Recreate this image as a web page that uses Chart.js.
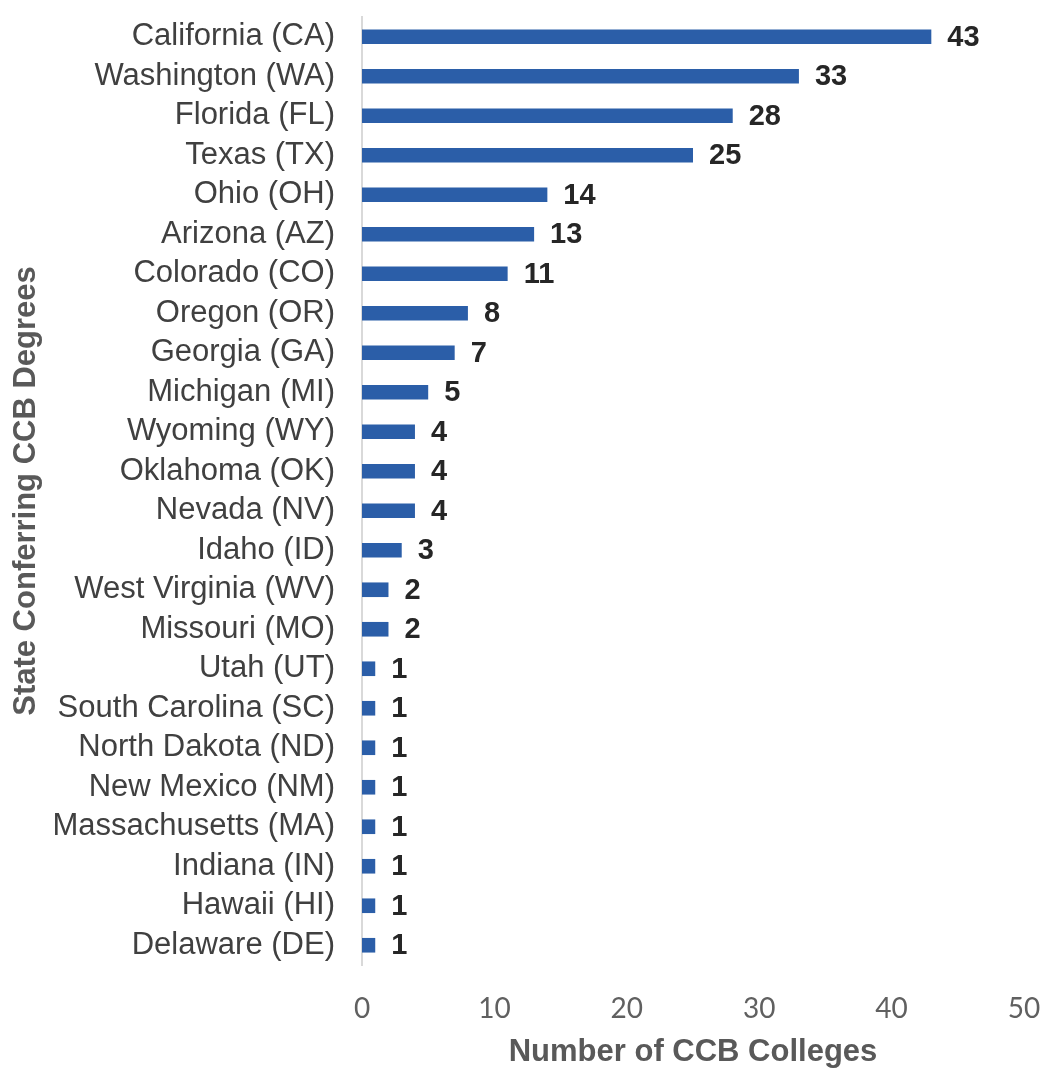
<!DOCTYPE html>
<html>
<head>
<meta charset="utf-8">
<title>CCB Colleges by State</title>
<script src="https://cdn.jsdelivr.net/npm/chart.js@4"></script>
<style>
  html, body { margin: 0; padding: 0; background: #ffffff; }
  #wrap { width: 1046px; height: 1068px; position: relative; }
</style>
</head>
<body>
<div id="wrap"><canvas id="ccbChart"></canvas></div>
<script>
// ---------------------------------------------------------
// DATA
// ---------------------------------------------------------
const states = [
  "California (CA)", "Washington (WA)", "Florida (FL)", "Texas (TX)",
  "Ohio (OH)", "Arizona (AZ)", "Colorado (CO)", "Oregon (OR)",
  "Georgia (GA)", "Michigan (MI)", "Wyoming (WY)", "Oklahoma (OK)",
  "Nevada (NV)", "Idaho (ID)", "West Virginia (WV)", "Missouri (MO)",
  "Utah (UT)", "South Carolina (SC)", "North Dakota (ND)", "New Mexico (NM)",
  "Massachusetts (MA)", "Indiana (IN)", "Hawaii (HI)", "Delaware (DE)"
];
const colleges = [43, 33, 28, 25, 14, 13, 11, 8, 7, 5, 4, 4, 4, 3, 2, 2, 1, 1, 1, 1, 1, 1, 1, 1];
const xTicks = [0, 10, 20, 30, 40, 50];

const BAR_BLUE = "#2b5ea8";
const LABEL_FONT = "'Liberation Sans', Arial, sans-serif";

// value labels printed just past the end of each bar
const valueLabels = {
  id: "valueLabels",
  afterDatasetsDraw(chart) {
    const ctx = chart.ctx;
    const meta = chart.getDatasetMeta(0);
    ctx.save();
    ctx.font = "bold 29px " + LABEL_FONT;
    ctx.fillStyle = "#262626";
    ctx.textAlign = "left";
    ctx.textBaseline = "middle";
    meta.data.forEach((bar, i) => {
      ctx.fillText(String(colleges[i]), bar.x + 16, bar.y + 1);
    });
    ctx.restore();
  }
};

const ctx = document.getElementById("ccbChart");

new Chart(ctx, {
  type: "bar",
  data: {
    labels: states,
    datasets: [{
      data: colleges,
      backgroundColor: BAR_BLUE,
      borderWidth: 0,
      categoryPercentage: 1,
      barPercentage: 0.37
    }]
  },
  options: {
    indexAxis: "y",
    responsive: true,
    maintainAspectRatio: false,
    animation: false,
    layout: { padding: { top: 17, right: 22, bottom: 0, left: 0 } },
    plugins: {
      legend: { display: false },
      tooltip: { enabled: false }
    },
    scales: {
      x: {
        min: 0,
        max: 50,
        afterBuildTicks(scale) {
          scale.ticks = xTicks.map(v => ({ value: v }));
        },
        afterFit(scale) {
          scale.height = 103;
          // keep the plot edge fixed, the "50" label may overhang
          scale.paddingLeft = 0;
          scale.paddingRight = 0;
        },
        grid: { display: false, drawTicks: false },
        border: { display: false },
        ticks: {
          padding: 27,
          color: "#606060",
          font: { family: "Lato, 'Liberation Sans', sans-serif", size: 28, weight: 400 }
        },
        title: {
          display: true,
          text: "Number of CCB Colleges",
          color: "#595959",
          padding: { top: 0, bottom: -3 },
          font: { family: LABEL_FONT, size: 31, weight: "bold" }
        }
      },
      y: {
        afterFit(scale) {
          scale.width = 362;
          scale.paddingTop = 0;
          scale.paddingBottom = 0;
        },
        grid: { display: false, drawTicks: false },
        border: { display: true, color: "#d9d9d9", width: 2 },
        ticks: {
          padding: 27,
          color: "#404040",
          autoSkip: false,
          font: { family: LABEL_FONT, size: 31 }
        },
        title: {
          display: true,
          text: "State Conferring CCB Degrees",
          color: "#595959",
          padding: { top: 8, bottom: 0 },
          font: { family: LABEL_FONT, size: 31, weight: "bold" }
        }
      }
    }
  },
  plugins: [valueLabels]
});
</script>
</body>
</html>
